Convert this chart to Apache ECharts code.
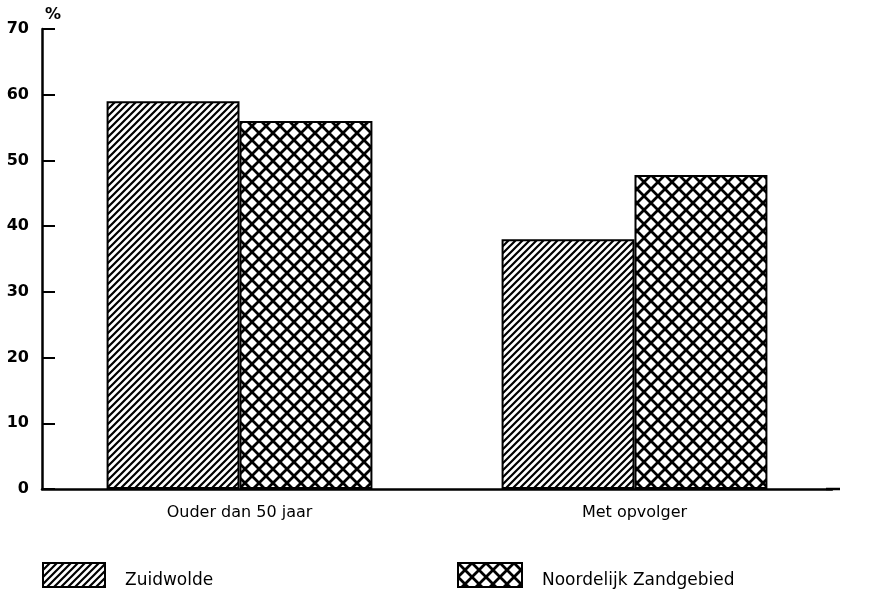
<!DOCTYPE html>
<html>
<head>
<meta charset="utf-8">
<script src="https://cdn.jsdelivr.net/npm/echarts@6/dist/echarts.min.js"></script>
<style>html,body{margin:0;padding:0;background:#fff}#c{width:869px;height:595px}</style>
</head>
<body>
<div id="c"></div>
<script>
var categories = ['Ouder dan 50 jaar', 'Met opvolger'];
var zuidwolde = [59, 38];
var noordelijk = [56, 47.8];
var seriesNames = ['Zuidwolde', 'Noordelijk Zandgebied'];
var yTicks = [0, 10, 20, 30, 40, 50, 60, 70];

function diagPattern() {
  var s = 7, c = document.createElement('canvas');
  c.width = s; c.height = s;
  var g = c.getContext('2d');
  g.fillStyle = '#fff'; g.fillRect(0, 0, s, s);
  g.strokeStyle = '#000'; g.lineWidth = 2.2; g.lineCap = 'square';
  g.beginPath();
  g.moveTo(-1, s + 1); g.lineTo(s + 1, -1);
  g.moveTo(-1, 1); g.lineTo(1, -1);
  g.moveTo(s - 1, s + 1); g.lineTo(s + 1, s - 1);
  g.stroke();
  return c;
}
function crossPattern() {
  var s = 14, c = document.createElement('canvas');
  c.width = s; c.height = s;
  var g = c.getContext('2d');
  g.fillStyle = '#fff'; g.fillRect(0, 0, s, s);
  g.strokeStyle = '#000'; g.lineWidth = 2.8;
  g.beginPath();
  g.moveTo(-2, s + 2); g.lineTo(s + 2, -2);
  g.moveTo(-2, -2); g.lineTo(s + 2, s + 2);
  g.stroke();
  return c;
}
var pat1 = { image: diagPattern(), repeat: 'repeat' };
var pat2 = { image: crossPattern(), repeat: 'repeat' };

var chart = echarts.init(document.getElementById('c'), null, { renderer: 'canvas' });
var font = 'DejaVu Sans';
var legendText = {
  fontFamily: font, fontSize: 17, color: '#000',
  rich: { t: { fontFamily: font, fontSize: 17, color: '#000', padding: [12, 0, 0, 15] } }
};
chart.setOption({
  animation: false,
  backgroundColor: '#fff',
  grid: { left: 42, right: 37, top: 29, bottom: 106, containLabel: false },
  legend: [
    {
      data: [seriesNames[0]], left: 42, top: 562, padding: 0, itemWidth: 62, itemHeight: 24,
      icon: 'rect', formatter: '{t|{name}}',
      itemStyle: { borderColor: '#000', borderWidth: 2 },
      textStyle: legendText
    },
    {
      data: [seriesNames[1]], left: 457, top: 562, padding: 0, itemWidth: 64, itemHeight: 24,
      icon: 'rect', formatter: '{t|{name}}',
      itemStyle: { borderColor: '#000', borderWidth: 2 },
      textStyle: legendText
    }
  ],
  xAxis: {
    type: 'category', data: categories,
    axisLine: { lineStyle: { color: '#000', width: 2.5 } },
    axisTick: { show: false },
    axisLabel: { color: '#000', fontFamily: font, fontSize: 16, margin: 16 },
    splitLine: { show: false }
  },
  yAxis: {
    type: 'value', min: 0, max: 70, interval: 10,
    name: '%', nameLocation: 'end', nameGap: 6,
    nameTextStyle: { color: '#000', fontFamily: font, fontSize: 16, fontWeight: 'bold', align: 'left', padding: [0, 0, 0, 3] },
    axisLine: { show: true, lineStyle: { color: '#000', width: 2.5 } },
    axisTick: { show: true, inside: true, length: 13, lineStyle: { color: '#000', width: 2 } },
    axisLabel: {
      color: '#000', fontFamily: font, fontSize: 16, fontWeight: 'bold', margin: 13,
      formatter: function (v) { return yTicks.indexOf(v) >= 0 ? String(v) : ''; }
    },
    splitLine: { show: false }
  },
  series: [
    {
      name: seriesNames[0], type: 'bar', data: zuidwolde,
      barGap: '0%', barCategoryGap: '32.7%',
      itemStyle: { color: pat1, borderColor: '#000', borderWidth: 2 }
    },
    {
      name: seriesNames[1], type: 'bar', data: noordelijk,
      barGap: '0%', barCategoryGap: '32.7%',
      itemStyle: { color: pat2, borderColor: '#000', borderWidth: 2 }
    }
  ],
  graphic: [
    { type: 'line', shape: { x1: 826, y1: 489, x2: 840, y2: 489 }, style: { stroke: '#000', lineWidth: 2.5 } }
  ]
});
</script>
</body>
</html>
